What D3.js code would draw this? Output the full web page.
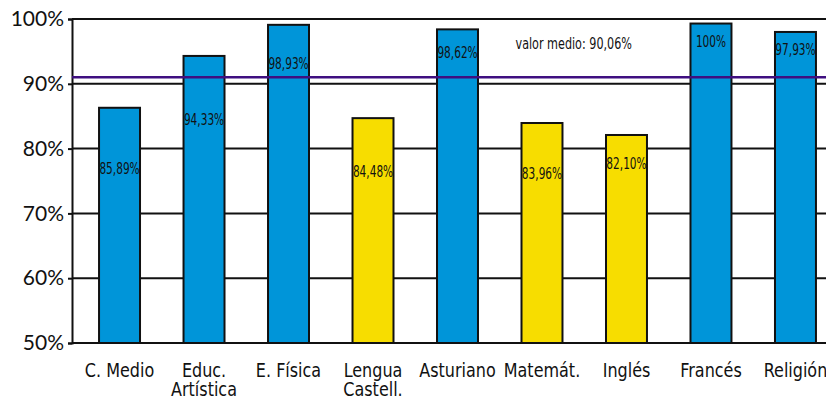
<!DOCTYPE html>
<html>
<head>
<meta charset="utf-8">
<script src="https://cdn.jsdelivr.net/npm/d3@7"></script>
<style>
  body { margin: 0; background: #fff; }
  svg { display: block; }
</style>
</head>
<body>
<div id="main"></div>
<script>
const ctx = { w: 826, h: 400 };
const margin = { top: 19, left: 72, bottom: 57 };

// asignaturas (dos líneas donde hace falta)
const subjects = ['C. Medio', 'Educ.|Artística', 'E. Física', 'Lengua|Castell.', 'Asturiano', 'Matemát.', 'Inglés', 'Francés', 'Religión'];
// altura de cada barra
const barValues = [86.3, 94.3, 99.1, 84.7, 98.4, 83.95, 82.1, 99.3, 98.0];
// texto que aparece dentro de cada barra
const barLabels = ['85,89%', '94,33%', '98,93%', '84,48%', '98,62%', '83,96%', '82,10%', '100%', '97,93%'];
// nivel (en %) donde está escrito cada rótulo
const labelLevels = [76.9, 84.6, 93.1, 76.5, 94.8, 76.2, 77.8, 96.6, 95.4];
const yTicks = [50, 60, 70, 80, 90, 100];
const meanLine = 91;
const meanText = 'valor medio: 90,06%';
const groups = ['a', 'a', 'a', 'b', 'a', 'b', 'b', 'a', 'a'];

const color = d3.scaleOrdinal().domain(['a', 'b']).range(['#0095d9', '#f7dd00']);

const svg = d3.select('#main').append('svg')
    .attr('width', ctx.w)
    .attr('height', ctx.h);

const y = d3.scaleLinear()
    .domain([50, 100])
    .range([ctx.h - margin.bottom, margin.top]);

const x = d3.scaleBand()
    .domain(subjects)
    .range([margin.left, 843])
    .paddingInner(0.515)
    .paddingOuter(0.32);

const cx = d => x(d) + x.bandwidth() / 2;
const font = '"DejaVu Sans", sans-serif';

// líneas de referencia
svg.append('g')
    .selectAll('line')
    .data(yTicks)
    .enter().append('line')
    .attr('x1', margin.left)
    .attr('x2', ctx.w)
    .attr('y1', d => y(d))
    .attr('y2', d => y(d))
    .attr('stroke', '#111')
    .attr('stroke-width', 2);

// eje Y
const yAxis = svg.append('g')
    .attr('transform', `translate(${margin.left},0)`)
    .call(d3.axisLeft(y).tickValues(yTicks).tickSize(4).tickPadding(4).tickFormat(d => d + '%'));
yAxis.select('.domain').attr('stroke', '#111').attr('stroke-width', 2);
yAxis.selectAll('.tick line').attr('stroke', '#111').attr('stroke-width', 2);
yAxis.selectAll('.tick text')
    .attr('fill', '#111')
    .style('font-family', 'Lato, "DejaVu Sans", sans-serif')
    .style('font-size', '21px');

// barras
svg.append('g')
    .selectAll('rect')
    .data(subjects)
    .enter().append('rect')
    .attr('x', d => x(d))
    .attr('y', (d, i) => y(barValues[i]))
    .attr('width', x.bandwidth())
    .attr('height', (d, i) => y(50) - y(barValues[i]))
    .attr('fill', (d, i) => color(groups[i]))
    .attr('stroke', '#111')
    .attr('stroke-width', 2);

// línea del valor medio
svg.append('line')
    .attr('x1', margin.left)
    .attr('x2', ctx.w)
    .attr('y1', y(meanLine))
    .attr('y2', y(meanLine))
    .attr('stroke', '#3f0f80')
    .attr('stroke-width', 2.5);

// texto estrecho: se comprime en horizontal
function narrowText(sel, sx) {
    return sel.append('text')
        .attr('transform', `scale(${sx},1)`)
        .style('font-family', font)
        .attr('fill', '#111');
}

// rótulos dentro de las barras
svg.append('g')
    .selectAll('g')
    .data(subjects)
    .enter().append('g')
    .attr('transform', (d, i) => `translate(${cx(d)},${y(labelLevels[i])})`)
    .each(function (d, i) {
        narrowText(d3.select(this), 0.66)
            .attr('dy', '0.36em')
            .attr('text-anchor', 'middle')
            .style('font-size', '16px')
            .text(barLabels[i]);
    });

const mean = svg.append('g')
    .attr('transform', `translate(${x('Matemát.') - 6},${y(96.2)})`);
narrowText(mean, 0.7)
    .attr('dy', '0.36em')
    .style('font-size', '16px')
    .text(meanText);

// etiquetas del eje X
svg.append('g')
    .selectAll('g')
    .data(subjects)
    .enter().append('g')
    .attr('transform', d => `translate(${cx(d)},377)`)
    .each(function (d) {
        const t = narrowText(d3.select(this), 0.8)
            .attr('text-anchor', 'middle')
            .style('font-size', '20px');
        t.selectAll('tspan')
            .data(d.split('|'))
            .enter().append('tspan')
            .attr('x', 0)
            .attr('dy', (s, j) => j === 0 ? 0 : 19)
            .text(s => s);
    });
</script>
</body>
</html>
